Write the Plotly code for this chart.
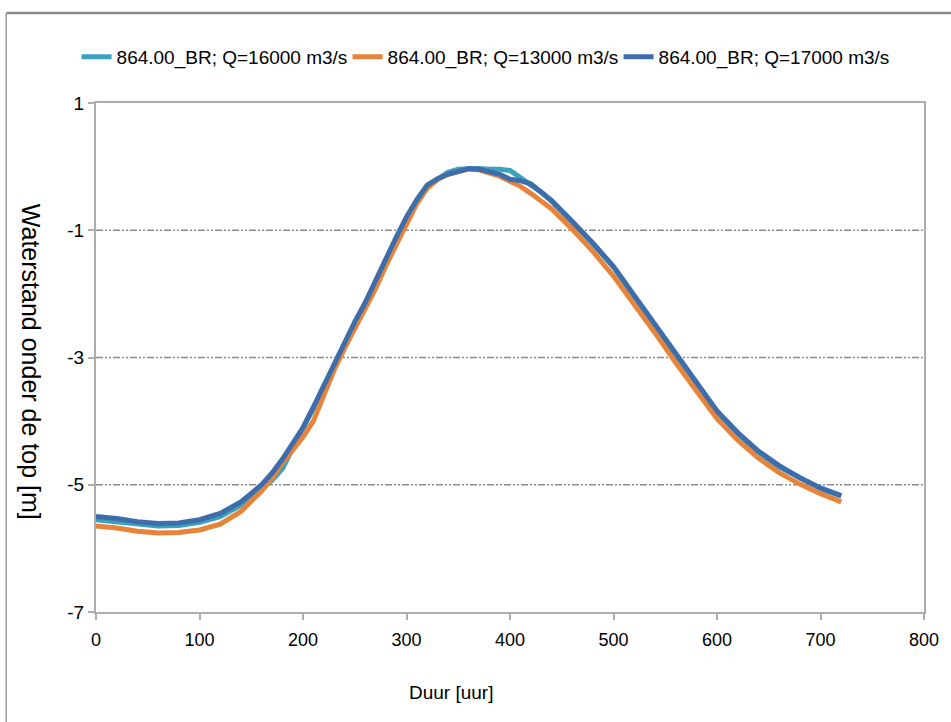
import plotly.graph_objects as go

# Duration in hours since start of the event
duur = [0, 20, 40, 60, 80, 100, 120, 140, 160, 170, 180, 190, 200, 210, 220,
        230, 240, 250, 260, 270, 280, 290, 300, 310, 320, 330, 340, 350, 360,
        370, 380, 390, 400, 410, 420, 430, 440, 460, 480, 500, 520, 540, 560,
        580, 600, 620, 640, 660, 680, 700, 720]

# Water level below the peak [m] for each discharge scenario
q16000 = [-5.55, -5.58, -5.62, -5.65, -5.64, -5.59, -5.50, -5.32, -5.05, -4.93,
          -4.75, -4.44, -4.13, -3.80, -3.48, -3.13, -2.78, -2.47, -2.17, -1.82,
          -1.47, -1.14, -0.81, -0.54, -0.33, -0.20, -0.09, -0.04, -0.03, -0.03,
          -0.04, -0.04, -0.06, -0.17, -0.28, -0.40, -0.54, -0.87, -1.21, -1.58,
          -2.03, -2.50, -2.97, -3.42, -3.86, -4.20, -4.49, -4.72, -4.90, -5.06,
          -5.18]
q13000 = [-5.65, -5.68, -5.73, -5.76, -5.75, -5.71, -5.62, -5.42, -5.10, -4.90,
          -4.66, -4.45, -4.25, -4.00, -3.58, -3.20, -2.86, -2.55, -2.25, -1.92,
          -1.56, -1.23, -0.89, -0.58, -0.34, -0.20, -0.12, -0.07, -0.04, -0.05,
          -0.09, -0.15, -0.23, -0.31, -0.42, -0.54, -0.66, -0.98, -1.33, -1.72,
          -2.15, -2.61, -3.08, -3.53, -3.96, -4.30, -4.58, -4.81, -4.99, -5.14,
          -5.27]
q17000 = [-5.50, -5.53, -5.58, -5.61, -5.60, -5.55, -5.45, -5.27, -5.00, -4.82,
          -4.60, -4.35, -4.10, -3.78, -3.44, -3.08, -2.74, -2.44, -2.14, -1.79,
          -1.44, -1.11, -0.79, -0.52, -0.29, -0.19, -0.12, -0.07, -0.03, -0.04,
          -0.07, -0.12, -0.20, -0.22, -0.27, -0.40, -0.53, -0.86, -1.20, -1.57,
          -2.02, -2.48, -2.95, -3.40, -3.84, -4.18, -4.47, -4.70, -4.89, -5.05,
          -5.17]

x_ticks = [0, 100, 200, 300, 400, 500, 600, 700, 800]
y_ticks = [-7, -5, -3, -1, 1]
y_tick_text = ["-7", "-5", "-3", "-1", "1"]

series = [
    ("864.00_BR; Q=16000 m3/s", q16000, "#3AA2BE"),
    ("864.00_BR; Q=13000 m3/s", q13000, "#E8843A"),
    ("864.00_BR; Q=17000 m3/s", q17000, "#3E6DAB"),
]

FONT = "Liberation Sans, Arial, sans-serif"

fig = go.Figure()
for name, vals, color in series:
    fig.add_trace(go.Scatter(
        x=duur, y=vals, name=name, mode="lines",
        line=dict(color=color, width=5),
    ))

W, H = 951, 722
ML, MR, MT, MB = 96, 25, 103, 110
pw, ph = W - ML - MR, H - MT - MB

def px_x(p):
    return (p - ML) / pw

def px_y(p):
    return 1 - (p - MT) / ph

grid_dash = "7px,2px,2px,2px,2px,2px"

fig.update_layout(
    width=W, height=H,
    margin=dict(l=ML, r=MR, t=MT, b=MB),
    paper_bgcolor="white", plot_bgcolor="white",
    font=dict(family=FONT, size=19, color="#000000"),
    showlegend=True,
    legend=dict(
        orientation="h", x=px_x(484), y=px_y(57), xanchor="center", yanchor="middle",
        font=dict(family=FONT, size=19), bgcolor="rgba(0,0,0,0)",
        itemwidth=30, tracegroupgap=0,
        entrywidth=226, entrywidthmode="pixels",
    ),
    xaxis=dict(
        range=[0, 800], tickvals=x_ticks,
        showgrid=False, zeroline=False,
        showline=True, linecolor="#ADADAD", linewidth=2, mirror=True,
        ticks="outside", ticklen=6, tickcolor="#ADADAD", tickwidth=1.5,
        tickfont=dict(family=FONT, size=18), ticklabelstandoff=4,
    ),
    yaxis=dict(
        range=[-7, 1], tickvals=y_ticks, ticktext=y_tick_text,
        showgrid=False, zeroline=False,
        showline=True, linecolor="#ADADAD", linewidth=2, mirror=True,
        ticks="outside", ticklen=6, tickcolor="#ADADAD", tickwidth=1.5,
        tickfont=dict(family=FONT, size=19),
    ),
)

# dash-dot-dot horizontal gridlines
for gy in [-1, -3, -5]:
    fig.add_shape(type="line", xref="paper", yref="y", x0=0, x1=1, y0=gy, y1=gy,
                  line=dict(color="#8C8C8C", width=1.3, dash=grid_dash), layer="below")

# outer frame of the chart area
fig.add_shape(type="line", xref="paper", yref="paper",
              x0=px_x(6), x1=px_x(W + 10), y0=px_y(13), y1=px_y(13),
              line=dict(color="#8A8A8A", width=2.5))
fig.add_shape(type="line", xref="paper", yref="paper",
              x0=px_x(6), x1=px_x(6), y0=px_y(13), y1=px_y(H + 10),
              line=dict(color="#9A9A9A", width=1.5))

fig.add_annotation(text="Waterstand onder de top [m]", xref="paper", yref="paper",
                   x=px_x(31), y=px_y(362), textangle=90, showarrow=False,
                   xanchor="center", yanchor="middle",
                   font=dict(family=FONT, size=25))
fig.add_annotation(text="Duur [uur]", xref="paper", yref="paper",
                   x=px_x(452), y=px_y(692), showarrow=False,
                   xanchor="center", yanchor="middle",
                   font=dict(family=FONT, size=19))

fig.write_html("out.html")
